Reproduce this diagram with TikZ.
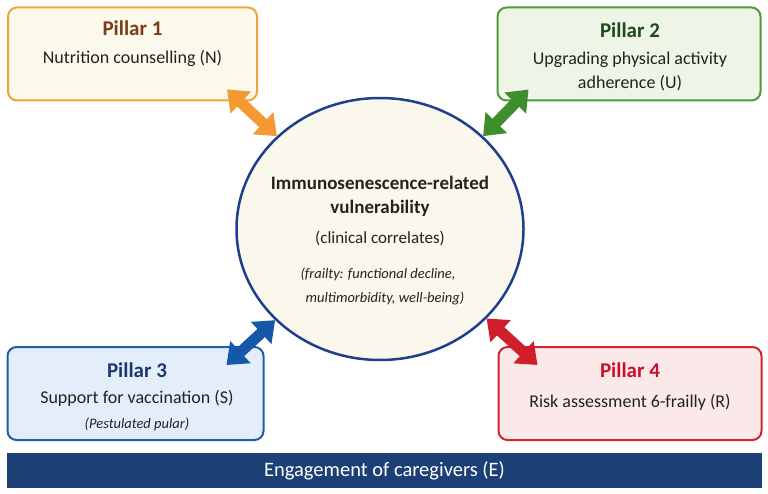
\documentclass[tikz,border=0pt]{standalone}
\usepackage{fontspec}
\setmainfont{Carlito}
\usetikzlibrary{arrows.meta,shapes.geometric,calc}
\definecolor{orB}{HTML}{F2A23C}
\definecolor{orF}{HTML}{FBF8EC}
\definecolor{orT}{HTML}{7A3E1C}
\definecolor{grB}{HTML}{4E9A3C}
\definecolor{grF}{HTML}{EEF5E6}
\definecolor{grT}{HTML}{1E4A1E}
\definecolor{blB}{HTML}{1F5DA8}
\definecolor{blF}{HTML}{E3EEFA}
\definecolor{blT}{HTML}{1A3A6E}
\definecolor{rdB}{HTML}{D42230}
\definecolor{rdF}{HTML}{FBE9EA}
\definecolor{rdT}{HTML}{C8102E}
\definecolor{arO}{HTML}{F39A33}
\definecolor{arG}{HTML}{3E8F2C}
\definecolor{arB}{HTML}{1558A8}
\definecolor{arR}{HTML}{D01F2A}
\definecolor{navy}{HTML}{1C3F75}
\definecolor{circB}{HTML}{1E3F8E}
\definecolor{circF}{HTML}{FAF8EC}
\definecolor{txt}{HTML}{222222}
\tikzset{
  pbox/.style={rectangle, rounded corners=9pt, line width=2pt, inner sep=0pt},
  ptitle/.style={font=\fontsize{21}{24}\selectfont\bfseries, inner sep=0pt},
  pbody/.style={font=\fontsize{18}{20}\selectfont, text=txt, inner sep=0pt},
  psmall/.style={font=\fontsize{14.5}{16}\selectfont\itshape, text=txt, inner sep=0pt},
  dbl/.style={line width=11pt, {Triangle[width=29pt,length=19pt]}-{Triangle[width=29pt,length=19pt]}}
}
\begin{document}
\begin{tikzpicture}[x=1pt,y=-1pt]
\useasboundingbox (0,0) rectangle (768,494);
% boxes
\node[pbox, draw=orB, fill=orF, minimum width=249pt, minimum height=93pt] (p1) at (132.5,54) {};
\node[pbox, draw=grB, fill=grF, minimum width=263pt, minimum height=93pt] (p2) at (629,54) {};
\node[pbox, draw=blB, fill=blF, minimum width=256pt, minimum height=93pt] (p3) at (135.5,393.5) {};
\node[pbox, draw=rdB, fill=rdF, minimum width=263pt, minimum height=93pt] (p4) at (630,393.5) {};
% box texts
\node[ptitle, text=orT] (t1) at (132.5,28) {Pillar 1};
\node[pbody] (b1) at (132.5,58) {Nutrition counselling (N)};
\node[ptitle, text=grT] (t2) at (630,30) {Pillar 2};
\node[pbody] (b2a) at (630,60) {Upgrading physical activity};
\node[pbody] (b2b) at (630,83) {adherence (U)};
\node[ptitle, text=blT] (t3) at (137,370) {Pillar 3};
\node[pbody] (b3) at (137,398) {Support for vaccination (S)};
\node[psmall] (s3) at (137,424) {(Pestulated pular)};
\node[ptitle, text=rdT] (t4) at (630,370) {Pillar 4};
\node[pbody] (b4) at (630,402) {Risk assessment 6-frailly (R)};
% circle
\node[ellipse, draw=circB, fill=circF, line width=2.5pt, minimum width=287pt, minimum height=262pt, inner sep=0pt] (c) at (380,229) {};
\node[font=\fontsize{19}{20}\selectfont\bfseries, text=txt, inner sep=0pt] (c1) at (380,183) {Immunosenescence-related};
\node[font=\fontsize{19}{20}\selectfont\bfseries, text=txt, inner sep=0pt] (c2) at (380,208) {vulnerability};
\node[font=\fontsize{17}{18}\selectfont, text=txt, inner sep=0pt] (c3) at (380,238) {(clinical correlates)};
\node[psmall] (c4) at (378,274) {(frailty: functional decline,};
\node[psmall] (c5) at (385,298) {multimorbidity, well-being)};
% arrows
\coordinate (a1) at ($(p1.south east)+(-31,-12)$);
\coordinate (a2) at ($(p2.south west)+(32,-12)$);
\coordinate (a3) at ($(p3.north east)+(-38,19)$);
\coordinate (a4) at ($(p4.north west)+(40,19)$);
\draw[dbl, draw=arO, fill=arO] (a1) -- (c.138);
\draw[dbl, draw=arG, fill=arG] (a2) -- (c.42.5);
\draw[dbl, draw=arB, fill=arB] (a3) -- (c.221);
\draw[dbl, draw=arR, fill=arR] (a4) -- (c.320);
% bar
\node[rectangle, fill=navy, minimum width=755pt, minimum height=35pt, inner sep=0pt, font=\fontsize{20.5}{22}\selectfont, text=white] (bar) at (384.5,470.5) {Engagement of caregivers (E)};
\end{tikzpicture}
\end{document}
